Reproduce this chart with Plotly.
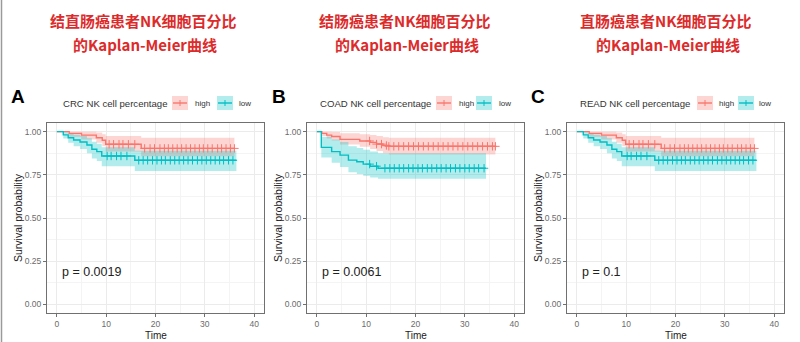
import plotly.graph_objects as go

W, H = 800, 342

# ---------------- data ----------------
titles_line1 = ["结直肠癌患者NK细胞百分比", "结肠癌患者NK细胞百分比", "直肠癌患者NK细胞百分比"]
titles_line2 = ["的Kaplan-Meier曲线", "的Kaplan-Meier曲线", "的Kaplan-Meier曲线"]
panel_letters = ["A", "B", "C"]
legend_titles = ["CRC NK cell percentage", "COAD NK cell percentage", "READ NK cell percentage"]
group_names = ["high", "low"]
p_values = ["p = 0.0019", "p = 0.0061", "p = 0.1"]
x_ticks = [0, 10, 20, 30, 40]
y_ticks = [0.0, 0.25, 0.5, 0.75, 1.0]

# CRC
CRC_high_t = [0, 2.5, 5.0, 8.0, 9.2, 9.9, 17.1, 36.0]
CRC_high_s = [1.0, 0.99, 0.98, 0.965, 0.95, 0.927, 0.903, 0.903]
CRC_high_up = [1.0, 1.0, 1.0, 0.995, 0.985, 0.975, 0.965, 0.965]
CRC_high_lo = [1.0, 0.97, 0.955, 0.935, 0.915, 0.885, 0.858, 0.858]
CRC_high_cens = [10.6, 11.5, 12.6, 13.4, 14.5, 15.8, 17.8, 18.9, 19.8, 20.9, 21.8, 22.6, 23.5,
                 24.4, 25.3, 26.2, 27.1, 28.0, 28.9, 29.7, 30.6, 31.5, 32.6, 33.4, 34.3, 35.2, 36.0]
CRC_low_t = [0, 1.3, 2.3, 3.4, 4.7, 6.1, 7.1, 8.1, 9.1, 15.8, 36.4]
CRC_low_s = [1.0, 0.981, 0.965, 0.952, 0.940, 0.923, 0.898, 0.884, 0.859, 0.834, 0.834]
CRC_low_up = [1.0, 0.998, 0.99, 0.982, 0.975, 0.962, 0.942, 0.93, 0.91, 0.89, 0.89]
CRC_low_lo = [1.0, 0.96, 0.935, 0.915, 0.9, 0.875, 0.845, 0.83, 0.8, 0.772, 0.772]
CRC_low_cens = [10.2, 11.0, 12.1, 13.0, 14.2, 16.6, 17.5, 18.4, 19.4, 20.3, 21.2, 22.0, 23.0, 23.9,
                24.8, 25.7, 26.6, 27.5, 28.5, 29.4, 30.3, 31.2, 32.1, 33.0, 33.8, 34.8, 35.7]

# COAD
COAD_high_t = [0, 1.0, 2.0, 3.0, 4.7, 8.7, 10.8, 12.1, 13.4, 14.6, 36.2]
COAD_high_s = [1.0, 0.99, 0.98, 0.972, 0.955, 0.946, 0.938, 0.928, 0.92, 0.915, 0.915]
COAD_high_up = [1.0, 1.0, 1.0, 0.998, 0.99, 0.985, 0.98, 0.975, 0.968, 0.965, 0.965]
COAD_high_lo = [1.0, 0.975, 0.96, 0.948, 0.925, 0.912, 0.9, 0.888, 0.875, 0.868, 0.868]
COAD_high_cens = [10.7, 12.1, 13.1, 14.1, 14.6, 15.6, 16.6, 17.6, 18.6, 19.6, 20.6, 21.6, 22.6, 23.6,
                  24.6, 25.6, 26.6, 27.6, 28.6, 29.6, 30.6, 31.6, 32.6, 33.6, 34.6, 35.6, 36.2]
COAD_low_t = [0, 0.9, 3.0, 4.7, 6.4, 8.1, 9.4, 10.8, 12.4, 34.3]
COAD_low_s = [1.0, 0.909, 0.884, 0.864, 0.835, 0.826, 0.812, 0.80, 0.788, 0.788]
COAD_low_up = [1.0, 0.97, 0.955, 0.94, 0.915, 0.905, 0.895, 0.885, 0.875, 0.875]
COAD_low_lo = [1.0, 0.85, 0.82, 0.795, 0.765, 0.755, 0.745, 0.735, 0.727, 0.727]
COAD_low_cens = [10.7, 12.1, 13.8, 14.8, 15.7, 16.7, 17.6, 18.6, 19.5, 20.5, 21.4, 22.4, 23.3, 24.3,
                 25.2, 26.2, 27.1, 28.1, 29.0, 30.0, 30.9, 31.9, 32.8, 33.9]

# READ
READ_high_t = [0, 2.5, 5.0, 8.0, 9.2, 9.9, 17.1, 36.0]
READ_high_s = [1.0, 0.99, 0.98, 0.965, 0.95, 0.927, 0.903, 0.903]
READ_high_up = [1.0, 1.0, 1.0, 0.995, 0.985, 0.975, 0.965, 0.965]
READ_high_lo = [1.0, 0.97, 0.955, 0.935, 0.915, 0.885, 0.858, 0.858]
READ_high_cens = [10.6, 11.5, 12.6, 13.4, 14.5, 15.8, 17.8, 18.9, 19.8, 20.9, 21.8, 22.6, 23.5,
                  24.4, 25.3, 26.2, 27.1, 28.0, 28.9, 29.7, 30.6, 31.5, 32.6, 33.4, 34.3, 35.2, 36.0]
READ_low_t = [0, 1.3, 2.3, 3.4, 4.7, 6.1, 7.1, 8.1, 9.1, 15.8, 36.4]
READ_low_s = [1.0, 0.981, 0.965, 0.952, 0.940, 0.923, 0.898, 0.884, 0.859, 0.834, 0.834]
READ_low_up = [1.0, 0.998, 0.99, 0.982, 0.975, 0.962, 0.942, 0.93, 0.91, 0.89, 0.89]
READ_low_lo = [1.0, 0.96, 0.935, 0.915, 0.9, 0.875, 0.845, 0.83, 0.8, 0.772, 0.772]
READ_low_cens = [10.2, 11.0, 12.1, 13.0, 14.2, 16.6, 17.5, 18.4, 19.4, 20.3, 21.2, 22.0, 23.0, 23.9,
                 24.8, 25.7, 26.6, 27.5, 28.5, 29.4, 30.3, 31.2, 32.1, 33.0, 33.8, 34.8, 35.7]

panels = [
    [(CRC_high_t, CRC_high_s, CRC_high_up, CRC_high_lo, CRC_high_cens),
     (CRC_low_t, CRC_low_s, CRC_low_up, CRC_low_lo, CRC_low_cens)],
    [(COAD_high_t, COAD_high_s, COAD_high_up, COAD_high_lo, COAD_high_cens),
     (COAD_low_t, COAD_low_s, COAD_low_up, COAD_low_lo, COAD_low_cens)],
    [(READ_high_t, READ_high_s, READ_high_up, READ_high_lo, READ_high_cens),
     (READ_low_t, READ_low_s, READ_low_up, READ_low_lo, READ_low_cens)],
]

# ---------------- styling / layout ----------------
line_colors = ["#F8766D", "#00BFC4"]
band_colors = ["rgba(248,118,109,0.30)", "rgba(0,191,196,0.30)"]
FONT = "Liberation Sans, Arial, sans-serif"
CJK = "Noto Sans CJK SC"
TITLE_RED = "#dc2b2b"

plot_left = [47, 307, 567]   # px
plot_w = 217
plot_top, plot_bottom = 123, 313
panel_off = [0, 260, 520]


def px(x):
    return x / W


def py(y):
    return 1 - y / H


def step_value(ts, ss, t):
    v = ss[0]
    for tt, s in zip(ts, ss):
        if tt <= t:
            v = s
    return v


fig = go.Figure()
annotations = []
shapes = []

for i, groups in enumerate(panels):
    xa = "x" if i == 0 else f"x{i+1}"
    ya = "y" if i == 0 else f"y{i+1}"
    # bands
    for g, (t, s, up, lo, cens) in enumerate(groups):
        fig.add_trace(go.Scatter(x=t, y=up, xaxis=xa, yaxis=ya, mode="lines",
                                 line=dict(width=0, shape="hv"), showlegend=False,
                                 hoverinfo="skip"))
        fig.add_trace(go.Scatter(x=t, y=lo, xaxis=xa, yaxis=ya, mode="lines",
                                 line=dict(width=0, shape="hv"), fill="tonexty",
                                 fillcolor=band_colors[g], showlegend=False,
                                 hoverinfo="skip"))
    # curves + censor marks
    for g, (t, s, up, lo, cens) in enumerate(groups):
        fig.add_trace(go.Scatter(x=t, y=s, xaxis=xa, yaxis=ya, mode="lines",
                                 line=dict(width=1.4, shape="hv", color=line_colors[g]),
                                 name=group_names[g], showlegend=False))
        cy = [step_value(t, s, c) for c in cens]
        fig.add_trace(go.Scatter(x=cens, y=cy, xaxis=xa, yaxis=ya, mode="markers",
                                 marker=dict(symbol="cross-thin", size=6,
                                             line=dict(width=1, color=line_colors[g]),
                                             color=line_colors[g]),
                                 showlegend=False, hoverinfo="skip"))

    x0 = plot_left[i]
    dom_x = [px(x0), px(x0 + plot_w)]
    dom_y = [py(plot_bottom), py(plot_top)]
    axis_common = dict(showline=True, mirror=True, linecolor="#707070", linewidth=1,
                       ticks="outside", ticklen=3, tickcolor="#707070",
                       tickfont=dict(family=FONT, size=8.5, color="#6b6b6b"),
                       gridcolor="#EBEBEB", gridwidth=0.8, zeroline=False)
    fig.update_layout(**{
        ("xaxis" if i == 0 else f"xaxis{i+1}"): dict(
            domain=dom_x, anchor=ya, range=[-2, 42], tickvals=x_ticks,
            minor=dict(showgrid=True, dtick=5, gridcolor="#F4F4F4", gridwidth=0.6),
            **axis_common),
        ("yaxis" if i == 0 else f"yaxis{i+1}"): dict(
            domain=dom_y, anchor=xa, range=[-0.05, 1.05], tickvals=y_ticks,
            tickformat=".2f",
            minor=dict(showgrid=True, dtick=0.125, gridcolor="#F4F4F4", gridwidth=0.6),
            **axis_common),
    })

    off = panel_off[i]
    # titles
    cx = [143, 405, 666][i]
    annotations.append(dict(x=px(cx), y=py(20), xref="paper", yref="paper",
                            text=f"<b>{titles_line1[i]}</b>", showarrow=False,
                            font=dict(family=CJK, size=15, color=TITLE_RED),
                            xanchor="center", yanchor="middle"))
    annotations.append(dict(x=px(cx + 2), y=py(44), xref="paper", yref="paper",
                            text=f"<b>{titles_line2[i]}</b>", showarrow=False,
                            font=dict(family=CJK, size=15, color=TITLE_RED),
                            xanchor="center", yanchor="middle"))
    # panel letter
    lx = [18, 279, 538][i]
    annotations.append(dict(x=px(lx), y=py(96), xref="paper", yref="paper",
                            text=f"<b>{panel_letters[i]}</b>", showarrow=False,
                            font=dict(family=FONT, size=19, color="#000000"),
                            xanchor="center", yanchor="middle"))
    # legend (manual)
    lt_x = [61, 318, 578][i]
    annotations.append(dict(x=px(lt_x), y=py(103), xref="paper", yref="paper",
                            text=legend_titles[i], showarrow=False,
                            font=dict(family=FONT, size=9.6, color="#333333"),
                            xanchor="left", yanchor="middle"))
    key_x = [[172, 217], [436, 476], [697, 738]][i]
    txt_x = [[193, 237], [457, 497], [717, 757]][i]
    for g in range(2):
        kx = key_x[g]
        shapes.append(dict(type="rect", xref="paper", yref="paper",
                           x0=px(kx), x1=px(kx + 16), y0=py(110), y1=py(96),
                           fillcolor=band_colors[g], line=dict(width=0), layer="above"))
        shapes.append(dict(type="line", xref="paper", yref="paper",
                           x0=px(kx + 1), x1=px(kx + 15), y0=py(103), y1=py(103),
                           line=dict(color=line_colors[g], width=1.4), layer="above"))
        shapes.append(dict(type="line", xref="paper", yref="paper",
                           x0=px(kx + 8), x1=px(kx + 8), y0=py(100), y1=py(106),
                           line=dict(color=line_colors[g], width=1), layer="above"))
        annotations.append(dict(x=px(txt_x[g]), y=py(103), xref="paper", yref="paper",
                                text=group_names[g], showarrow=False,
                                font=dict(family=FONT, size=8, color="#333333"),
                                xanchor="left", yanchor="middle"))
    # axis titles
    annotations.append(dict(x=px(x0 + plot_w / 2), y=py(335), xref="paper", yref="paper",
                            text="Time", showarrow=False,
                            font=dict(family=FONT, size=10, color="#222222"),
                            xanchor="center", yanchor="middle"))
    annotations.append(dict(x=px(off + 18), y=py((plot_top + plot_bottom) / 2),
                            xref="paper", yref="paper", text="Survival probability",
                            showarrow=False, textangle=-90,
                            font=dict(family=FONT, size=10.5, color="#222222"),
                            xanchor="center", yanchor="middle"))
    # p value
    annotations.append(dict(x=0.7, y=0.19, xref=xa, yref=ya, text=p_values[i],
                            showarrow=False, font=dict(family=FONT, size=12.5, color="#222222"),
                            xanchor="left", yanchor="middle"))

# left image border
shapes.append(dict(type="line", xref="paper", yref="paper", x0=px(1.5), x1=px(1.5),
                   y0=0, y1=1, line=dict(color="#9a9a9a", width=1.5)))

fig.update_layout(width=W, height=H, margin=dict(l=0, r=0, t=0, b=0),
                  paper_bgcolor="white", plot_bgcolor="white",
                  annotations=annotations, shapes=shapes, showlegend=False)

fig.write_html("out.html")
